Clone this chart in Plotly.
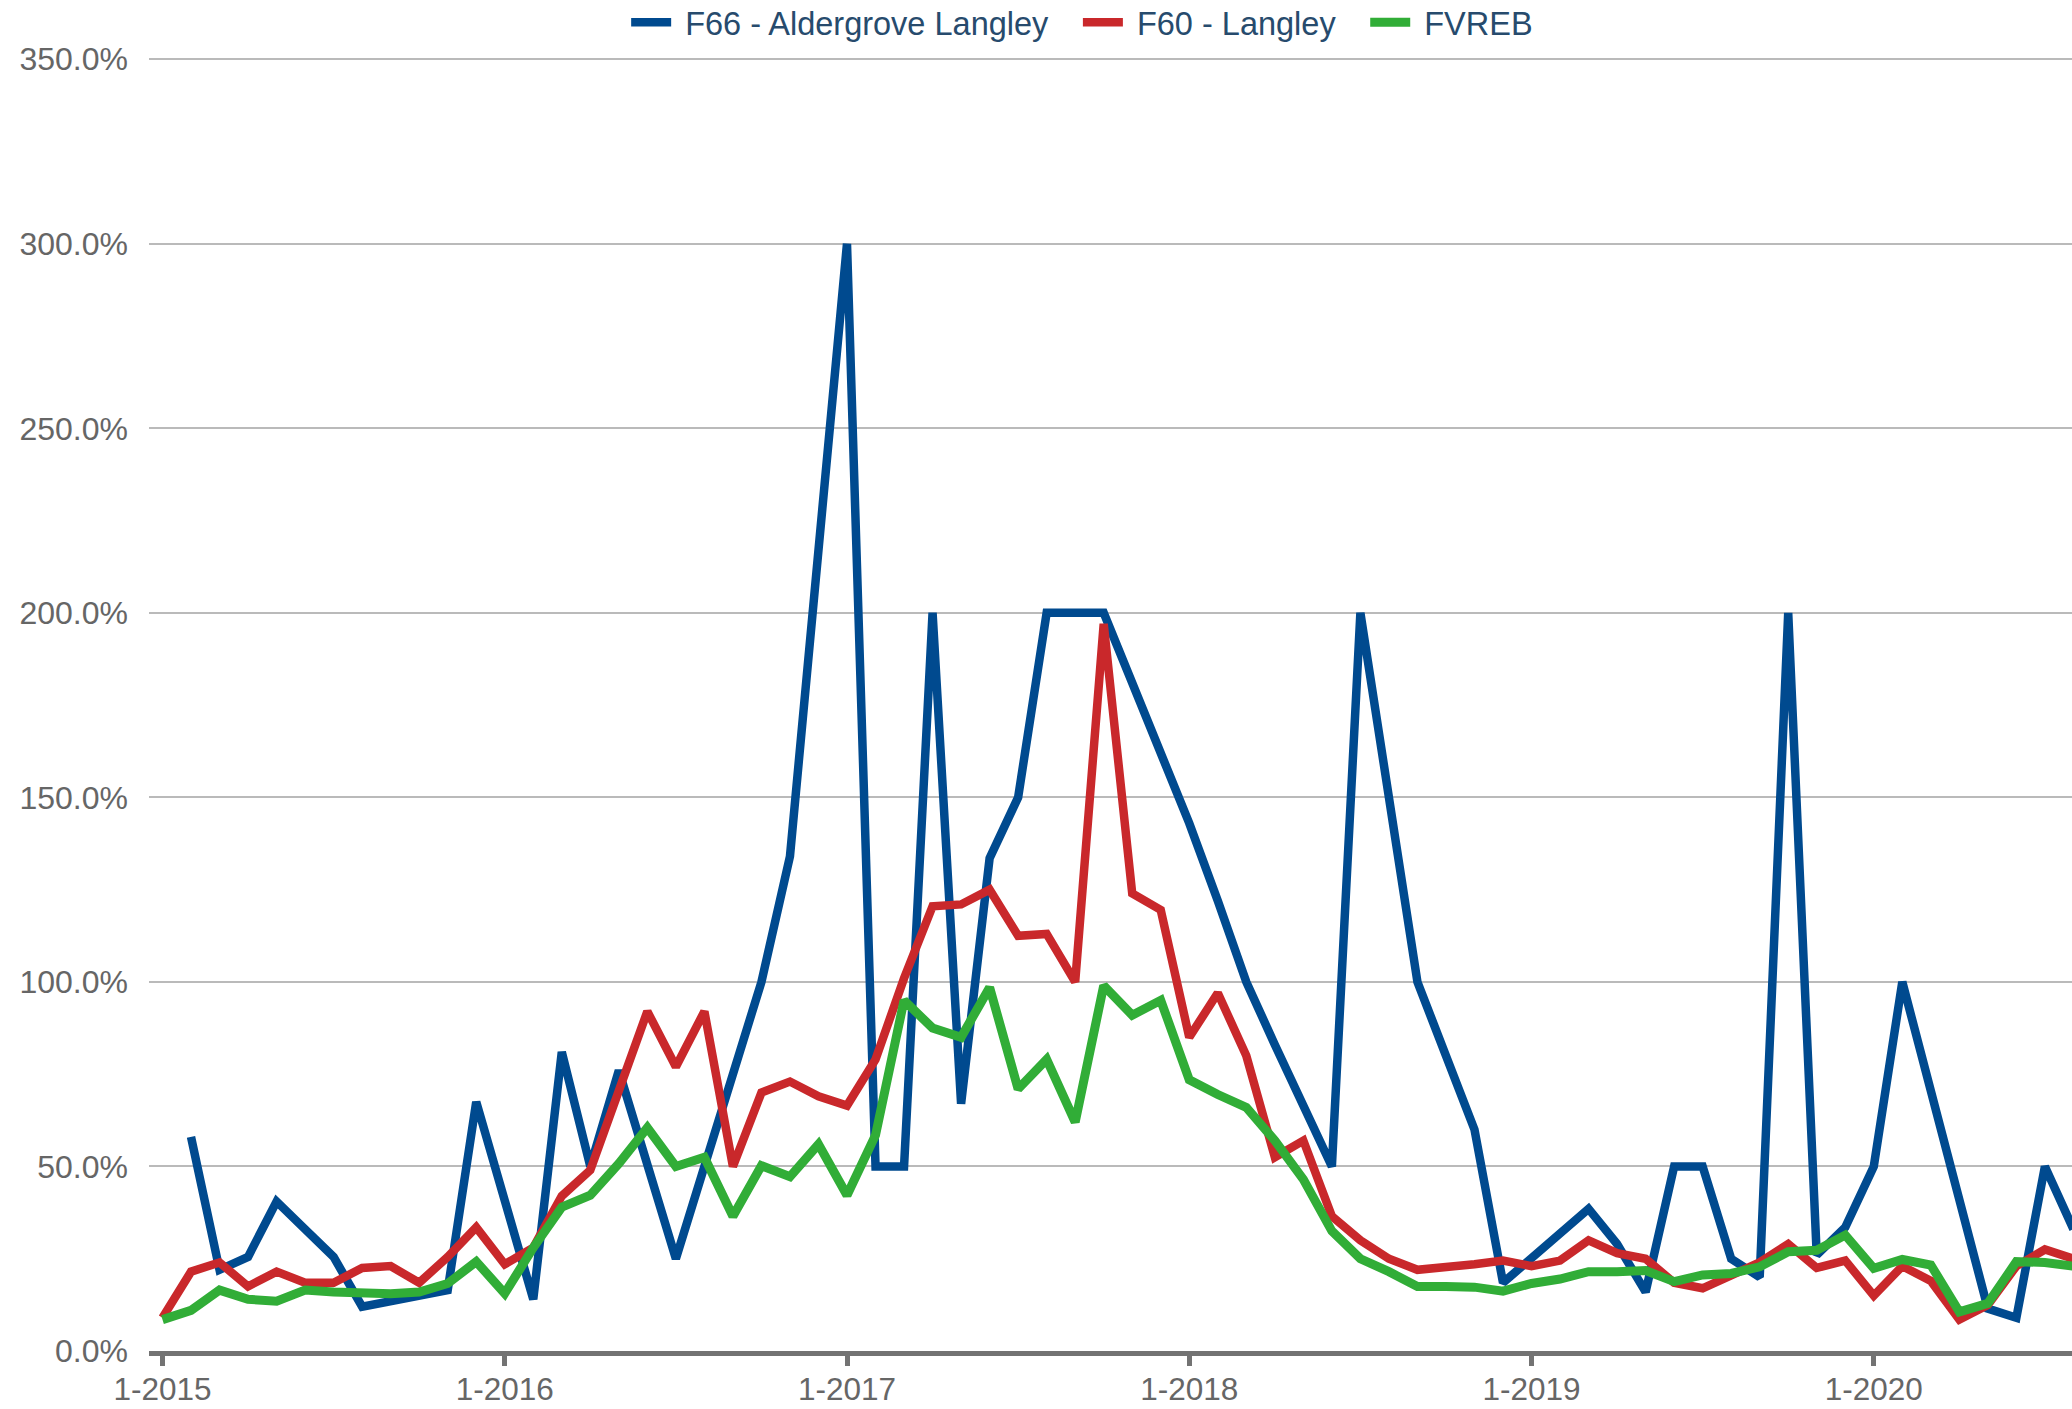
import plotly.graph_objects as go

# Month categories: Jan 2015 .. Aug 2020
months = [f"{m}-{y}" for y in range(2015, 2021) for m in range(1, 13)][:68]
tick_labels = ["1-2015", "1-2016", "1-2017", "1-2018", "1-2019", "1-2020"]
y_ticks = [0, 50, 100, 150, 200, 250, 300, 350]

f66_aldergrove = [
    None, 58, 22, 25.5, 40.5, 33, 25.5, 12, 13.5, 14.5, 16.5, 67.5,
    41, 14, 81, 50, 76, 50, 25, 50, 75, 100, 134, 215,
    300, 50, 50, 200, 67, 133.5, 150, 200, 200, 200, 181, 162,
    143, 122, 100, 83, 67, 50, 200, 150, 100, 80, 60, 18.5,
    25, 32, 38.5, 29, 16, 50, 50, 25, 20, 200, 26, 33.5,
    50, 100, 70, 41, 11.5, 9, 50, 33,
]
f60_langley = [
    9, 21.5, 24, 17.5, 21.5, 18.5, 18.5, 22.5, 23, 18.5, 25.5, 33.5,
    23.5, 28, 42, 49, 70.5, 92, 77, 92, 50, 70, 73, 69,
    66.5, 79, 101, 120.5, 121, 125, 112.5, 113, 100, 197, 124, 119.5,
    85, 97, 80, 52.5, 57, 36.5, 30, 25, 22, 22.5, 23.5, 24.5,
    23, 24.5, 30, 26.5, 25, 18.5, 17, 20.5, 24, 29, 22.5, 24.5,
    15, 23, 19, 8.5, 12.5, 23, 27.5, 25,
]
fvreb = [
    8.5, 11, 16.5, 14, 13.5, 16.5, 16, 15.5, 15.5, 16, 18.3, 24.2,
    15.6, 28, 39, 42.2, 50.8, 60.5, 50, 52.5, 36.5, 50.2, 47.2, 56,
    42.2, 58.5, 95, 87.5, 85, 98.5, 71, 79, 62, 99, 91, 95,
    73.5, 69.5, 66, 57, 46.5, 32.5, 25, 21.5, 17.5, 17.5, 17.3, 16.2,
    18.3, 19.5, 21.5, 21.5, 21.8, 18.8, 20.6, 21, 22.8, 26.9, 27.3, 31.4,
    22.4, 24.8, 23.3, 10.6, 12.9, 24.2, 24, 23,
]

NB = "\u00a0"
TAIL = NB + NB + "\u2009"
series = [
    ("F66 - Aldergrove Langley", f66_aldergrove, "#004a8f", 8.5),
    ("F60 - Langley", f60_langley, "#c9282b", 8.5),
    ("FVREB", fvreb, "#31ad37", 9),
]

fig = go.Figure()
for name, vals, color, w in series:
    fig.add_trace(go.Scatter(
        x=months, y=vals, name=NB + name + TAIL, mode="lines",
        line=dict(color=color, width=w),
        connectgaps=False,
    ))

fig.update_layout(
    width=2072, height=1409,
    margin=dict(l=149, r=0, t=57, b=58, autoexpand=False),
    paper_bgcolor="white", plot_bgcolor="white",
    font=dict(family="Liberation Sans, Arial, sans-serif", color="#666666"),
    showlegend=True,
    legend=dict(
        orientation="h", xref="container", yref="container",
        x=0.3022, xanchor="left", y=1 - 22.5 / 1409, yanchor="middle",
        font=dict(size=32.5, color="#274b6d"), bgcolor="rgba(0,0,0,0)",
        itemwidth=40,
    ),
)
fig.update_xaxes(
    type="category", categoryorder="array", categoryarray=months,
    range=[-0.473, 66.95], automargin=False,
    tickmode="array", tickvals=tick_labels, ticktext=tick_labels,
    showgrid=False, showline=True, linecolor="#737373", linewidth=5,
    ticks="outside", ticklen=10, tickwidth=5, tickcolor="#737373",
    tickfont=dict(size=31.5, color="#666666"), ticklabelstandoff=-4,
    zeroline=False,
)
fig.update_yaxes(
    range=[0, 350.6], automargin=False, tickmode="array", tickvals=y_ticks,
    ticktext=[f"{v:.1f}%" for v in y_ticks],
    showgrid=True, gridcolor="#bababa", gridwidth=2,
    zeroline=False, showline=False, ticks="",
    tickfont=dict(size=32, color="#666666"), ticklabelstandoff=20,
)

fig.write_html(
    "out.html",
    config={"displayModeBar": False},
    post_script="document.body.style.margin='0px';",
)
